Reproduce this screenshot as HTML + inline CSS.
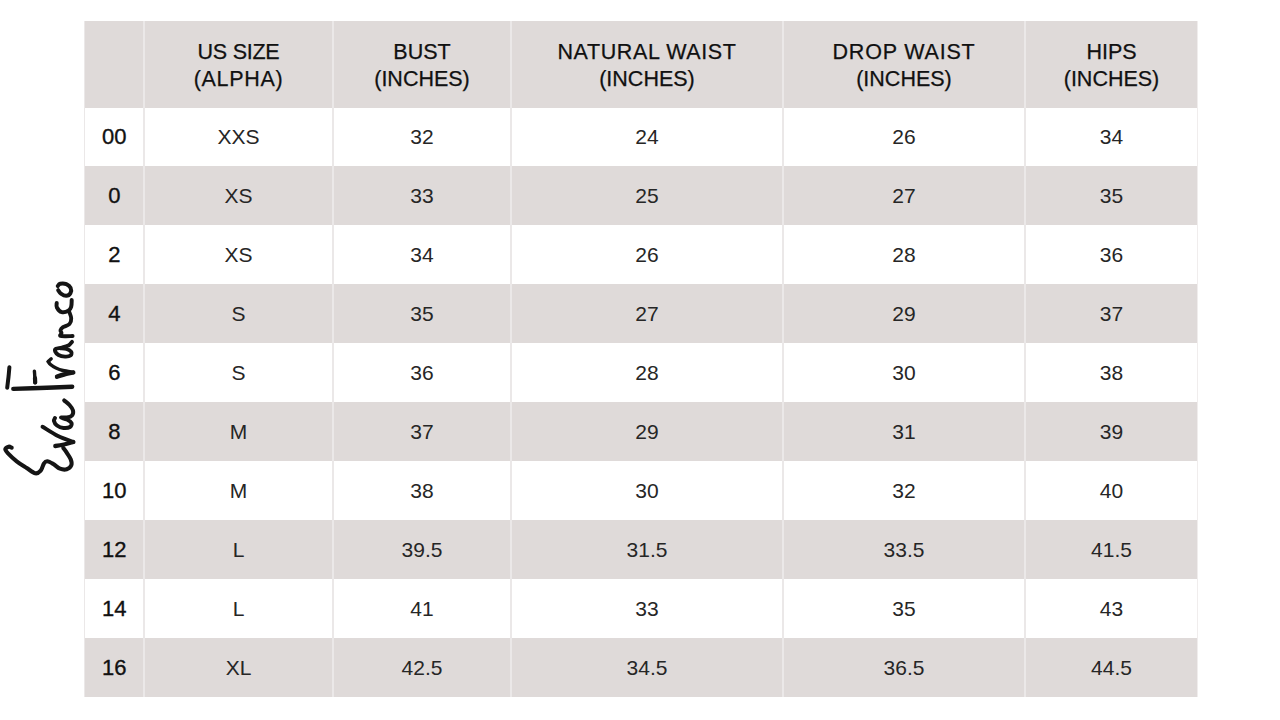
<!DOCTYPE html>
<html><head><meta charset="utf-8"><style>
html,body{margin:0;padding:0;background:#fff;width:1280px;height:720px;overflow:hidden;position:relative}
.bg{position:absolute}
.c{position:absolute;display:flex;align-items:center;justify-content:center;text-align:center;font-family:"Liberation Sans",sans-serif;color:#1a1a1a}
.h{font-size:21.5px;line-height:27px;color:#111;padding-top:3px;box-sizing:border-box;-webkit-text-stroke:0.25px #111}
.d{font-size:21px;color:#262626}
.f{font-size:22px;color:#111;-webkit-text-stroke:0.35px #111}
.v{position:absolute;width:1.5px;background:#ebe8e8}
.hl{position:absolute;height:1.5px;background:#ebe8e8}
</style></head><body>

<div class="bg" style="left:84.5px;top:21px;width:1113.5px;height:86.50px;background:#dfdad9"></div>
<div class="bg" style="left:84.5px;top:166.45px;width:1113.5px;height:58.95px;background:#dfdad9"></div>
<div class="bg" style="left:84.5px;top:284.35px;width:1113.5px;height:58.95px;background:#dfdad9"></div>
<div class="bg" style="left:84.5px;top:402.25px;width:1113.5px;height:58.95px;background:#dfdad9"></div>
<div class="bg" style="left:84.5px;top:520.1500000000001px;width:1113.5px;height:58.95px;background:#dfdad9"></div>
<div class="bg" style="left:84.5px;top:638.0500000000001px;width:1113.5px;height:58.95px;background:#dfdad9"></div>
<div class="v" style="left:83.75px;top:21px;height:676px"></div>
<div class="v" style="left:143.25px;top:21px;height:676px"></div>
<div class="v" style="left:332.25px;top:21px;height:676px"></div>
<div class="v" style="left:510.25px;top:21px;height:676px"></div>
<div class="v" style="left:782.25px;top:21px;height:676px"></div>
<div class="v" style="left:1024.25px;top:21px;height:676px"></div>
<div class="v" style="left:1197px;width:1px;top:21px;height:676px;background:#f0eded"></div>
<div class="c f" style="left:84.5px;top:107.50px;width:59.5px;height:58.95px">00</div>
<div class="c f" style="left:84.5px;top:166.45px;width:59.5px;height:58.95px">0</div>
<div class="c f" style="left:84.5px;top:225.40px;width:59.5px;height:58.95px">2</div>
<div class="c f" style="left:84.5px;top:284.35px;width:59.5px;height:58.95px">4</div>
<div class="c f" style="left:84.5px;top:343.30px;width:59.5px;height:58.95px">6</div>
<div class="c f" style="left:84.5px;top:402.25px;width:59.5px;height:58.95px">8</div>
<div class="c f" style="left:84.5px;top:461.20px;width:59.5px;height:58.95px">10</div>
<div class="c f" style="left:84.5px;top:520.15px;width:59.5px;height:58.95px">12</div>
<div class="c f" style="left:84.5px;top:579.10px;width:59.5px;height:58.95px">14</div>
<div class="c f" style="left:84.5px;top:638.05px;width:59.5px;height:58.95px">16</div>
<div class="c h" style="left:144px;top:21px;width:189px;height:86.5px"><div><span style="letter-spacing:-0.25px">US SIZE</span><br><span style="letter-spacing:0.7px">(ALPHA)</span></div></div>
<div class="c d" style="left:144px;top:107.50px;width:189px;height:58.95px">XXS</div>
<div class="c d" style="left:144px;top:166.45px;width:189px;height:58.95px">XS</div>
<div class="c d" style="left:144px;top:225.40px;width:189px;height:58.95px">XS</div>
<div class="c d" style="left:144px;top:284.35px;width:189px;height:58.95px">S</div>
<div class="c d" style="left:144px;top:343.30px;width:189px;height:58.95px">S</div>
<div class="c d" style="left:144px;top:402.25px;width:189px;height:58.95px">M</div>
<div class="c d" style="left:144px;top:461.20px;width:189px;height:58.95px">M</div>
<div class="c d" style="left:144px;top:520.15px;width:189px;height:58.95px">L</div>
<div class="c d" style="left:144px;top:579.10px;width:189px;height:58.95px">L</div>
<div class="c d" style="left:144px;top:638.05px;width:189px;height:58.95px">XL</div>
<div class="c h" style="left:333px;top:21px;width:178px;height:86.5px"><div>BUST<br>(INCHES)</div></div>
<div class="c d" style="left:333px;top:107.50px;width:178px;height:58.95px">32</div>
<div class="c d" style="left:333px;top:166.45px;width:178px;height:58.95px">33</div>
<div class="c d" style="left:333px;top:225.40px;width:178px;height:58.95px">34</div>
<div class="c d" style="left:333px;top:284.35px;width:178px;height:58.95px">35</div>
<div class="c d" style="left:333px;top:343.30px;width:178px;height:58.95px">36</div>
<div class="c d" style="left:333px;top:402.25px;width:178px;height:58.95px">37</div>
<div class="c d" style="left:333px;top:461.20px;width:178px;height:58.95px">38</div>
<div class="c d" style="left:333px;top:520.15px;width:178px;height:58.95px">39.5</div>
<div class="c d" style="left:333px;top:579.10px;width:178px;height:58.95px">41</div>
<div class="c d" style="left:333px;top:638.05px;width:178px;height:58.95px">42.5</div>
<div class="c h" style="left:511px;top:21px;width:272px;height:86.5px"><div><span style="letter-spacing:0.6px">NATURAL WAIST</span><br>(INCHES)</div></div>
<div class="c d" style="left:511px;top:107.50px;width:272px;height:58.95px">24</div>
<div class="c d" style="left:511px;top:166.45px;width:272px;height:58.95px">25</div>
<div class="c d" style="left:511px;top:225.40px;width:272px;height:58.95px">26</div>
<div class="c d" style="left:511px;top:284.35px;width:272px;height:58.95px">27</div>
<div class="c d" style="left:511px;top:343.30px;width:272px;height:58.95px">28</div>
<div class="c d" style="left:511px;top:402.25px;width:272px;height:58.95px">29</div>
<div class="c d" style="left:511px;top:461.20px;width:272px;height:58.95px">30</div>
<div class="c d" style="left:511px;top:520.15px;width:272px;height:58.95px">31.5</div>
<div class="c d" style="left:511px;top:579.10px;width:272px;height:58.95px">33</div>
<div class="c d" style="left:511px;top:638.05px;width:272px;height:58.95px">34.5</div>
<div class="c h" style="left:783px;top:21px;width:242px;height:86.5px"><div><span style="letter-spacing:0.8px">DROP WAIST</span><br>(INCHES)</div></div>
<div class="c d" style="left:783px;top:107.50px;width:242px;height:58.95px">26</div>
<div class="c d" style="left:783px;top:166.45px;width:242px;height:58.95px">27</div>
<div class="c d" style="left:783px;top:225.40px;width:242px;height:58.95px">28</div>
<div class="c d" style="left:783px;top:284.35px;width:242px;height:58.95px">29</div>
<div class="c d" style="left:783px;top:343.30px;width:242px;height:58.95px">30</div>
<div class="c d" style="left:783px;top:402.25px;width:242px;height:58.95px">31</div>
<div class="c d" style="left:783px;top:461.20px;width:242px;height:58.95px">32</div>
<div class="c d" style="left:783px;top:520.15px;width:242px;height:58.95px">33.5</div>
<div class="c d" style="left:783px;top:579.10px;width:242px;height:58.95px">35</div>
<div class="c d" style="left:783px;top:638.05px;width:242px;height:58.95px">36.5</div>
<div class="c h" style="left:1025px;top:21px;width:173px;height:86.5px"><div>HIPS<br>(INCHES)</div></div>
<div class="c d" style="left:1025px;top:107.50px;width:173px;height:58.95px">34</div>
<div class="c d" style="left:1025px;top:166.45px;width:173px;height:58.95px">35</div>
<div class="c d" style="left:1025px;top:225.40px;width:173px;height:58.95px">36</div>
<div class="c d" style="left:1025px;top:284.35px;width:173px;height:58.95px">37</div>
<div class="c d" style="left:1025px;top:343.30px;width:173px;height:58.95px">38</div>
<div class="c d" style="left:1025px;top:402.25px;width:173px;height:58.95px">39</div>
<div class="c d" style="left:1025px;top:461.20px;width:173px;height:58.95px">40</div>
<div class="c d" style="left:1025px;top:520.15px;width:173px;height:58.95px">41.5</div>
<div class="c d" style="left:1025px;top:579.10px;width:173px;height:58.95px">43</div>
<div class="c d" style="left:1025px;top:638.05px;width:173px;height:58.95px">44.5</div>
<svg style="position:absolute;left:0;top:0" width="90" height="720" viewBox="0 0 90 720">
<g fill="none" stroke="#151515" stroke-linecap="round" stroke-linejoin="round">
<path d="M11.7,447.7 C11.2,447.5 9.8,446.4 8.7,446.7 C7.6,447.0 5.4,448.2 5.3,449.3 C5.2,450.4 6.1,451.3 8.0,453.3 C9.9,455.3 13.6,458.9 16.7,461.3 C19.8,463.8 23.6,466.0 26.7,468.0 C29.8,470.0 33.0,472.9 35.3,473.3 C37.6,473.8 39.2,472.4 40.7,470.7 C42.2,469.0 42.9,464.9 44.0,463.3 C45.1,461.7 45.8,461.2 47.3,461.3 C48.8,461.4 51.2,462.8 53.3,464.0 C55.4,465.2 57.8,467.8 60.0,468.7 C62.2,469.6 64.8,469.9 66.7,469.3 C68.6,468.7 70.6,467.0 71.3,465.3 C72.0,463.6 71.5,461.4 70.7,459.3 C69.9,457.2 67.9,454.6 66.7,452.7 C65.5,450.8 63.9,448.8 63.3,448.0" stroke-width="4.1"/>
<path d="M42.5,426.7 C45.1,428.2 52.9,433.4 58.0,436.0 C63.1,438.6 70.8,441.0 73.3,442.0" stroke-width="3.9"/>
<path d="M73.3,442.0 C71.8,442.4 67.0,443.8 64.0,444.5 C61.0,445.2 56.8,445.8 55.3,446.0" stroke-width="4.3"/>
<path d="M64.2,400.4 C65.1,401.2 68.0,403.3 69.5,405.0 C71.0,406.7 72.6,408.8 73.0,410.5 C73.4,412.2 73.0,414.3 72.0,415.5 C71.0,416.7 68.8,417.2 67.0,417.5 C65.2,417.8 61.0,417.2 61.0,417.5 C61.0,417.8 65.2,418.6 67.0,419.5 C68.8,420.4 71.0,421.8 71.5,423.0 C72.0,424.2 71.3,426.2 70.0,427.0 C68.7,427.8 65.7,428.2 63.5,428.0 C61.3,427.8 58.6,426.7 57.0,425.5 C55.4,424.3 54.3,422.2 54.0,421.0 C53.7,419.8 54.8,418.5 55.0,418.0" stroke-width="4.0"/>
<path d="M9.4,367.2 C9.2,368.8 8.9,373.6 8.5,377.0 C8.1,380.4 7.4,386.0 7.2,387.8" stroke-width="4.0"/>
<path d="M13.3,388.9 C17.8,388.8 30.2,388.4 40.0,388.0 C49.8,387.6 66.8,386.9 72.2,386.7" stroke-width="4.4"/>
<path d="M34.4,371.1 C34.5,372.1 34.7,375.1 34.8,377.0 C34.9,378.9 35.0,381.8 35.0,382.8" stroke-width="3.4"/>
<path d="M35.0,378.0 C35.0,378.8 35.2,381.8 35.2,382.5" stroke-width="4.2"/>
<path d="M51.2,358.8 L48.2,361.5" stroke-width="3.4"/>
<path d="M48.2,361.5 C48.6,362.0 49.2,363.4 50.5,364.5 C51.8,365.6 53.9,367.0 56.0,368.0 C58.1,369.0 60.1,369.8 63.0,370.5 C65.9,371.2 71.6,372.0 73.3,372.3" stroke-width="3.5"/>
<path d="M73.3,372.5 C71.8,372.8 66.7,373.8 64.0,374.5 C61.3,375.2 58.2,376.3 57.0,376.7" stroke-width="4.4"/>
<path d="M72.0,341.8 C71.4,342.4 70.2,344.5 68.5,345.5 C66.8,346.5 64.1,347.1 62.0,347.6 C59.9,348.2 57.1,348.2 56.0,348.8 C54.9,349.4 54.8,350.5 55.2,351.5 C55.6,352.5 56.9,354.1 58.5,355.0 C60.1,355.9 63.0,356.5 65.0,356.6 C67.0,356.7 69.5,356.4 70.5,355.6 C71.5,354.8 71.9,352.9 71.2,351.8 C70.5,350.7 68.3,349.4 66.5,348.8 C64.7,348.2 61.5,348.3 60.5,348.2" stroke-width="3.9"/>
<path d="M69.2,311.7 C69.5,312.8 71.2,316.2 71.2,318.3 C71.3,320.4 70.9,322.5 69.5,324.0 C68.1,325.5 64.5,326.2 63.0,327.2 C61.5,328.2 60.8,329.2 60.5,330.2 C60.2,331.2 61.5,332.1 61.5,333.0 C61.5,333.9 59.5,335.3 60.2,335.8 C61.0,336.3 63.9,336.2 66.0,336.2 C68.1,336.2 71.5,336.0 72.6,336.0" stroke-width="3.9"/>
<path d="M56.7,302.9 C56.7,303.7 56.1,306.0 56.9,307.5 C57.7,309.0 59.8,311.6 61.7,312.1 C63.6,312.7 66.7,311.7 68.3,310.8 C69.9,309.9 70.7,308.5 71.2,306.7 C71.8,304.9 71.6,301.1 71.7,300.0" stroke-width="4.0"/>
<path d="M58.2,290.2 C58.7,290.8 59.5,292.7 60.9,293.6 C62.2,294.5 64.7,295.9 66.3,295.8 C67.9,295.8 69.7,294.6 70.4,293.3 C71.1,292.0 71.3,289.3 70.6,287.8 C69.9,286.3 68.0,284.8 66.3,284.1 C64.6,283.4 61.6,283.4 60.2,283.7 C58.8,284.0 58.2,285.6 57.8,286.0" stroke-width="4"/>
</g></svg>
</body></html>
